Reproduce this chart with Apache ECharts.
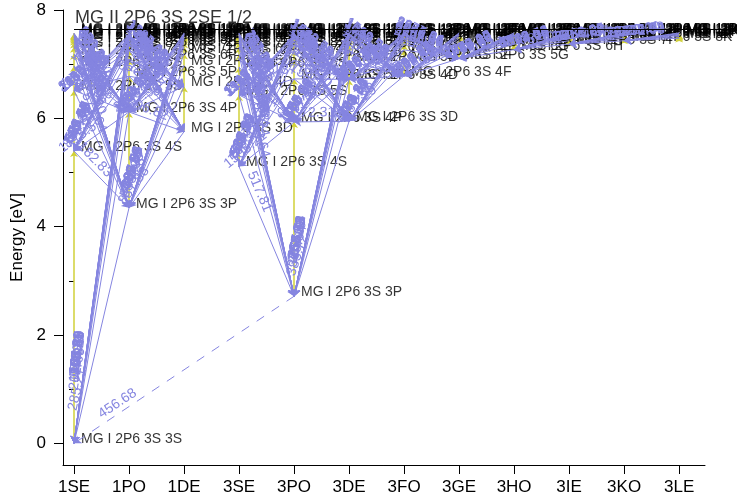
<!DOCTYPE html>
<html><head><meta charset="utf-8">
<script src="https://cdn.jsdelivr.net/npm/echarts@6/dist/echarts.min.js"></script>
<style>html,body{margin:0;padding:0;background:#fff}#c{width:737px;height:500px}</style>
</head><body><div id="c"></div>
<script>
// ---- data ----
const categories = ['1SE','1PO','1DE','3SE','3PO','3DE','3FO','3GE','3HO','3IE','3KO','3LE'];
const firstN = [3,3,3,4,3,3,4,5,6,7,8,9];           // principal number of the lowest level in each term
const e1SE = [0, 5.3953, 6.516, 6.965, 7.191, 7.321, 7.402, 7.456, 7.494, 7.522, 7.543, 7.559, 7.571];
const e1PO = [4.3471, 6.118, 6.778, 7.093, 7.263, 7.365, 7.431, 7.477, 7.509, 7.533, 7.551, 7.565, 7.576];
const e1DE = [5.753, 6.588, 6.974, 7.196, 7.324, 7.404, 7.458, 7.495, 7.523, 7.543, 7.559, 7.571];
const e3SE = [5.1093, 6.431, 6.943, 7.179, 7.314, 7.398, 7.453, 7.492, 7.520, 7.541, 7.558, 7.570];
const e3PO = [2.7149, 5.933, 6.728, 7.072, 7.251, 7.358, 7.426, 7.473, 7.506, 7.531, 7.549, 7.564, 7.575];
const e3DE = [5.946, 6.719, 7.063, 7.246, 7.354, 7.424, 7.472, 7.505, 7.530, 7.549, 7.563, 7.575];
const e3FO = [6.783, 7.095, 7.264, 7.366, 7.432, 7.477, 7.509, 7.533, 7.551, 7.565, 7.576];
const e3GE = [7.102, 7.268, 7.368, 7.433, 7.478, 7.510, 7.534, 7.552, 7.566, 7.577];
const e3HO = [7.268, 7.368, 7.433, 7.478, 7.510, 7.534, 7.552, 7.566, 7.577];
const e3IE = [7.368, 7.433, 7.478, 7.510, 7.534, 7.552, 7.566, 7.577];
const e3KO = [7.433, 7.478, 7.510, 7.534, 7.552, 7.566, 7.577];
const e3LE = [7.478, 7.510, 7.534, 7.552, 7.566, 7.577];
const ionLimit = 7.646;
const ionLabel = 'MG II 2P6 3S 2SE 1/2';
const yTicks = [0, 2, 4, 6, 8];
const yMinorTicks = [1, 3, 5, 7];
// transitions: [term A, level index in A, term B, first level index in B, last level index in B]
const transitions = [
  ['1SE',0,'1PO',0,12], ['1PO',0,'1SE',1,12], ['1PO',0,'1DE',0,11],
  ['1SE',1,'1PO',1,12], ['1DE',0,'1PO',1,12], ['1PO',1,'1SE',2,12],
  ['1PO',1,'1DE',1,11], ['1SE',2,'1PO',2,10], ['1DE',1,'1PO',2,10],
  ['3PO',0,'3SE',0,11], ['3PO',0,'3DE',0,11], ['3SE',0,'3PO',1,12],
  ['3DE',0,'3PO',1,12], ['3DE',0,'3FO',0,10], ['3PO',1,'3SE',1,11],
  ['3PO',1,'3DE',1,11], ['3SE',1,'3PO',2,10], ['3DE',1,'3PO',2,10],
  ['3DE',1,'3FO',0,10], ['3FO',0,'3DE',2,10], ['3FO',0,'3GE',0,9],
  ['3GE',0,'3FO',2,9],  ['3GE',0,'3HO',0,8],  ['3HO',0,'3IE',0,7],
  ['3IE',0,'3KO',0,6],  ['3KO',0,'3LE',0,5]
];
const dashedTransitions = [['1SE',0,'3PO',0,0]];

// ---- build ----
const levelsByTerm = {'1SE':e1SE,'1PO':e1PO,'1DE':e1DE,'3SE':e3SE,'3PO':e3PO,'3DE':e3DE,
  '3FO':e3FO,'3GE':e3GE,'3HO':e3HO,'3IE':e3IE,'3KO':e3KO,'3LE':e3LE};
const PURPLE = '#8585e0', YELLOW = '#d0d038';
const FONT = '"Liberation Sans", Arial, Helvetica, sans-serif';

function levelName(t, i) { return 'MG I 2P6 3S ' + (firstN[categories.indexOf(t)] + i) + t[1]; }

const wlLabels = [];
function build(list) {
  const out = [];
  list.forEach(([ta, ia, tb, j0, j1]) => {
    const xa = categories.indexOf(ta), xb = categories.indexOf(tb);
    for (let j = j0; j <= j1; j++) {
      const Ea = levelsByTerm[ta][ia], Eb = levelsByTerm[tb][j];
      const pa = [xa, Ea], pb = [xb, Eb];
      const up = Ea > Eb ? pa : pb, lo = Ea > Eb ? pb : pa;
      out.push({ coords: [up, lo] });
      const left = xa < xb ? pa : pb, right = xa < xb ? pb : pa;
      const f = 0.44;
      wlLabels.push({
        name: (1239.84 / Math.abs(Ea - Eb)).toFixed(2),
        coords: [left, [left[0] + (right[0] - left[0]) * f, left[1] + (right[1] - left[1]) * f]]
      });
    }
  });
  return out;
}
const solidLines = build(transitions);
const dashedLines = build(dashedTransitions);

const yellowSegs = [];
const levelPts = [];
categories.forEach((t, x) => {
  const E = levelsByTerm[t];
  E.forEach((e, i) => {
    levelPts.push({ value: [x, e], name: levelName(t, i) });
    if (i < E.length - 1) yellowSegs.push({ coords: [[x, e], [x, E[i + 1]]] });
  });
});

const chart = echarts.init(document.getElementById('c'), null, { renderer: 'canvas' });
chart.setOption({
  animation: false,
  textStyle: { fontFamily: FONT },
  grid: { left: 63, right: 32, top: 10, bottom: 35 },
  xAxis: {
    type: 'value', min: -0.2, max: 11.47,
    axisLine: { show: true, onZero: false, lineStyle: { color: '#000', width: 1 } },
    axisTick: { show: true, length: 9, lineStyle: { color: '#000' }, customValues: categories.map((c, i) => i) },
    axisLabel: { customValues: categories.map((c, i) => i), formatter: v => categories[Math.round(v)],
      color: '#000', fontSize: 17, margin: 14, fontFamily: FONT },
    splitLine: { show: false }
  },
  yAxis: [{
    type: 'value', min: -0.4, max: 8,
    name: 'Energy [eV]', nameLocation: 'middle', nameGap: 37,
    nameTextStyle: { color: '#000', fontSize: 17, fontFamily: FONT },
    axisLine: { show: true, onZero: false, lineStyle: { color: '#000', width: 1 } },
    axisTick: { show: true, length: 9, lineStyle: { color: '#000' }, customValues: yTicks },
    axisLabel: { customValues: yTicks, color: '#000', fontSize: 17, margin: 17, fontFamily: FONT },
    splitLine: { show: false }
  }, {
    type: 'value', min: -0.4, max: 8, position: 'left',
    axisLine: { show: false },
    axisTick: { show: true, length: 5, lineStyle: { color: '#000' }, customValues: yMinorTicks },
    axisLabel: { show: false },
    splitLine: { show: false }
  }],
  series: [
    { type: 'lines', coordinateSystem: 'cartesian2d', z: 1, silent: true,
      symbol: ['none', 'arrow'], symbolSize: 6,
      lineStyle: { color: YELLOW, width: 1.5, opacity: 1 }, data: yellowSegs },
    { type: 'scatter', z: 2, symbolSize: 0, silent: true, data: levelPts,
      label: { show: true, position: 'right', distance: 7, offset: [0, -4], formatter: '{b}',
        color: '#000', fontSize: 14, fontFamily: FONT } },
    { type: 'lines', coordinateSystem: 'cartesian2d', z: 3, silent: true,
      symbol: ['none', 'arrow'], symbolSize: 7,
      lineStyle: { color: PURPLE, width: 1, opacity: 1 }, data: solidLines },
    { type: 'lines', coordinateSystem: 'cartesian2d', z: 3, silent: true,
      symbol: ['none', 'arrow'], symbolSize: 7,
      lineStyle: { color: PURPLE, width: 1, opacity: 1, type: [9, 9] }, data: dashedLines },
    { type: 'lines', coordinateSystem: 'cartesian2d', z: 4, silent: true, clip: false,
      symbol: 'none', lineStyle: { color: 'rgba(255,255,255,0)', width: 0, opacity: 1 },
      label: { show: true, position: 'middle', distance: 2, formatter: '{b}', color: PURPLE,
        opacity: 1, fontSize: 14, fontFamily: FONT },
      data: wlLabels },
    { type: 'lines', coordinateSystem: 'cartesian2d', z: 5, silent: true, clip: false,
      symbol: 'none', lineStyle: { color: '#000', width: 1, opacity: 1 },
      data: [{ coords: [[0, ionLimit], [categories.length - 0.05, ionLimit]] }] },
    { type: 'scatter', z: 5, symbolSize: 0, silent: true, clip: false,
      data: [{ value: [0, ionLimit], name: ionLabel }],
      label: { show: true, position: 'right', distance: 1, offset: [0, -11], formatter: '{b}',
        color: '#000', fontSize: 18, fontFamily: FONT } }
  ]
});
</script>
</body></html>
